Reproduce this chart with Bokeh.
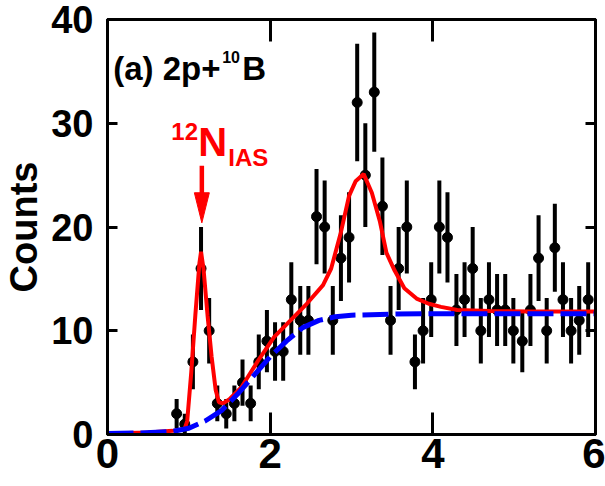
import numpy as np
from bokeh.plotting import figure
from bokeh.models import Range1d, LinearAxis, FixedTicker, Label, ColumnDataSource
from bokeh.embed import file_html
from bokeh.resources import INLINE

# Measured spectrum: bin centres (MeV) and counts per bin
energy = [0.85, 0.95, 1.05, 1.15, 1.25, 1.35, 1.46, 1.56, 1.66, 1.76,
          1.86, 1.96, 2.06, 2.16, 2.26, 2.37, 2.47, 2.57, 2.67, 2.77,
          2.87, 2.97, 3.07, 3.17, 3.28, 3.38, 3.48, 3.58, 3.68, 3.78,
          3.88, 3.98, 4.08, 4.18, 4.29, 4.39, 4.49, 4.59, 4.69, 4.79,
          4.89, 4.99, 5.10, 5.20, 5.30, 5.40, 5.50, 5.60, 5.70, 5.80,
          5.91]
counts = [2, 1, 7, 16, 10, 3, 2, 3, 5, 3,
          7, 9, 8, 8, 13, 11, 11, 21, 20, 11,
          17, 19, 32, 25, 33, 22, 11, 16, 20, 7,
          10, 13, 20, 19, 12, 13, 16, 10, 13, 12,
          12, 10, 9, 12, 17, 10, 18, 13, 10, 11,
          13]

# Total fit (red) and background (blue dashed)
fit_x = [0.0, 0.5, 0.8, 0.9, 0.95, 0.98, 1.03, 1.08, 1.13, 1.15,
         1.18, 1.23, 1.28, 1.33, 1.37, 1.42, 1.5, 1.65, 1.85, 2.05,
         2.25, 2.45, 2.65, 2.75, 2.87, 2.97, 3.05, 3.15, 3.25, 3.35,
         3.43, 3.53, 3.65, 3.8, 3.95, 4.1, 4.3, 4.7, 5.2, 6.0]
fit_total = [0.1, 0.2, 0.35, 0.45, 0.6, 1.3, 6.0, 11.5, 16.5, 17.6,
             16.0, 11.5, 7.5, 4.3, 3.1, 3.0, 3.4, 4.6, 7.1, 9.4,
             11.0, 12.6, 14.4, 16.0, 19.5, 23.0, 24.4, 25.1, 23.3, 20.5,
             17.5, 15.8, 14.1, 13.1, 12.6, 12.3, 12.0, 11.9, 11.85, 11.85]
bg_x = [0.0, 0.4, 0.8, 1.0, 1.2, 1.4, 1.6, 1.8, 2.0, 2.2,
        2.4, 2.6, 2.8, 3.0, 3.5, 4.0, 5.0, 6.0]
bg_y = [0.1, 0.15, 0.3, 0.6, 1.3, 2.3, 3.9, 5.7, 7.5, 9.0,
        10.3, 11.0, 11.35, 11.5, 11.6, 11.65, 11.65, 11.65]

x_ticks = [0, 2, 4, 6]
y_ticks = [0, 10, 20, 30, 40]

FONT = "Liberation Sans"
RED = "#ff0000"
BLUE = "#0000ff"

cnt = np.array(counts, dtype=float)
err = np.sqrt(cnt)
src = ColumnDataSource(dict(x=energy, y=cnt, lo=cnt - err, hi=cnt + err))

p = figure(width=605, height=486, output_backend="svg", toolbar_location=None,
           x_range=Range1d(0, 6), y_range=Range1d(0, 40),
           min_border_left=106, min_border_right=10,
           min_border_top=19, min_border_bottom=52)
p.grid.visible = False
p.outline_line_color = "black"
p.outline_line_width = 3
p.background_fill_color = "white"
p.border_fill_color = "white"


def style_axis(ax, ticks, tick_in, size, show_labels=True):
    ax.ticker = FixedTicker(ticks=ticks)
    ax.minor_tick_line_color = None
    ax.major_tick_in = tick_in
    ax.major_tick_out = 0
    ax.major_tick_line_width = 3
    ax.major_tick_line_color = "black"
    ax.axis_line_width = 3
    ax.axis_line_color = "black"
    ax.major_label_text_font = FONT
    ax.major_label_text_font_style = "bold"
    ax.major_label_text_font_size = size
    if show_labels:
        ax.major_label_text_color = "black"
    else:
        # mirrored axis: ticks only
        ax.major_label_text_color = None
        ax.major_label_standoff = 0


style_axis(p.xaxis[0], x_ticks, 22, "42px")
p.xaxis[0].major_label_standoff = 4
style_axis(p.yaxis[0], y_ticks, 10, "38px")
p.yaxis[0].major_label_standoff = 14
p.yaxis[0].axis_label = "Counts"
p.yaxis[0].axis_label_text_font = FONT
p.yaxis[0].axis_label_text_font_style = "bold"
p.yaxis[0].axis_label_text_font_size = "38px"
p.yaxis[0].axis_label_text_color = "black"
p.yaxis[0].axis_label_standoff = 3

top_ax = LinearAxis()
style_axis(top_ax, x_ticks, 22, "8px", show_labels=False)
p.add_layout(top_ax, "above")
right_ax = LinearAxis()
style_axis(right_ax, y_ticks, 10, "8px", show_labels=False)
p.add_layout(right_ax, "right")

# data with statistical error bars
p.segment(x0="x", y0="lo", x1="x", y1="hi", source=src, line_color="black", line_width=4)
p.scatter(x="x", y="y", source=src, size=10, color="black")

# fit curves
p.line(fit_x, fit_total, line_color=RED, line_width=4)
p.line(bg_x, bg_y, line_color=BLUE, line_width=5, line_dash="26 7")


def add_text(x, y, text, size, color):
    p.add_layout(Label(x=x, y=y, text=text, text_font=FONT, text_font_style="bold",
                       text_font_size=size, text_color=color,
                       text_baseline="alphabetic"))


# panel label
add_text(0.07, 35.28, "(a) 2p+", "33px", "black")
add_text(1.41, 36.34, "10", "16px", "black")
add_text(1.656, 35.28, "B", "33px", "black")

# IAS marker
add_text(0.785, 29.23, "12", "24px", RED)
add_text(1.117, 28.24, "N", "40px", RED)
add_text(1.485, 26.70, "IAS", "24px", RED)

ARROW_X, ARROW_TAIL, HEAD_BASE, ARROW_TIP, HEAD_HALF = 1.16, 25.9, 23.3, 20.4, 0.092
p.segment(x0=[ARROW_X], y0=[ARROW_TAIL], x1=[ARROW_X], y1=[HEAD_BASE - 0.8],
          line_color=RED, line_width=4.5)
p.patch([ARROW_X - HEAD_HALF, ARROW_X + HEAD_HALF, ARROW_X],
        [HEAD_BASE, HEAD_BASE, ARROW_TIP], color=RED)

open("out.html", "w").write(file_html(p, INLINE))
